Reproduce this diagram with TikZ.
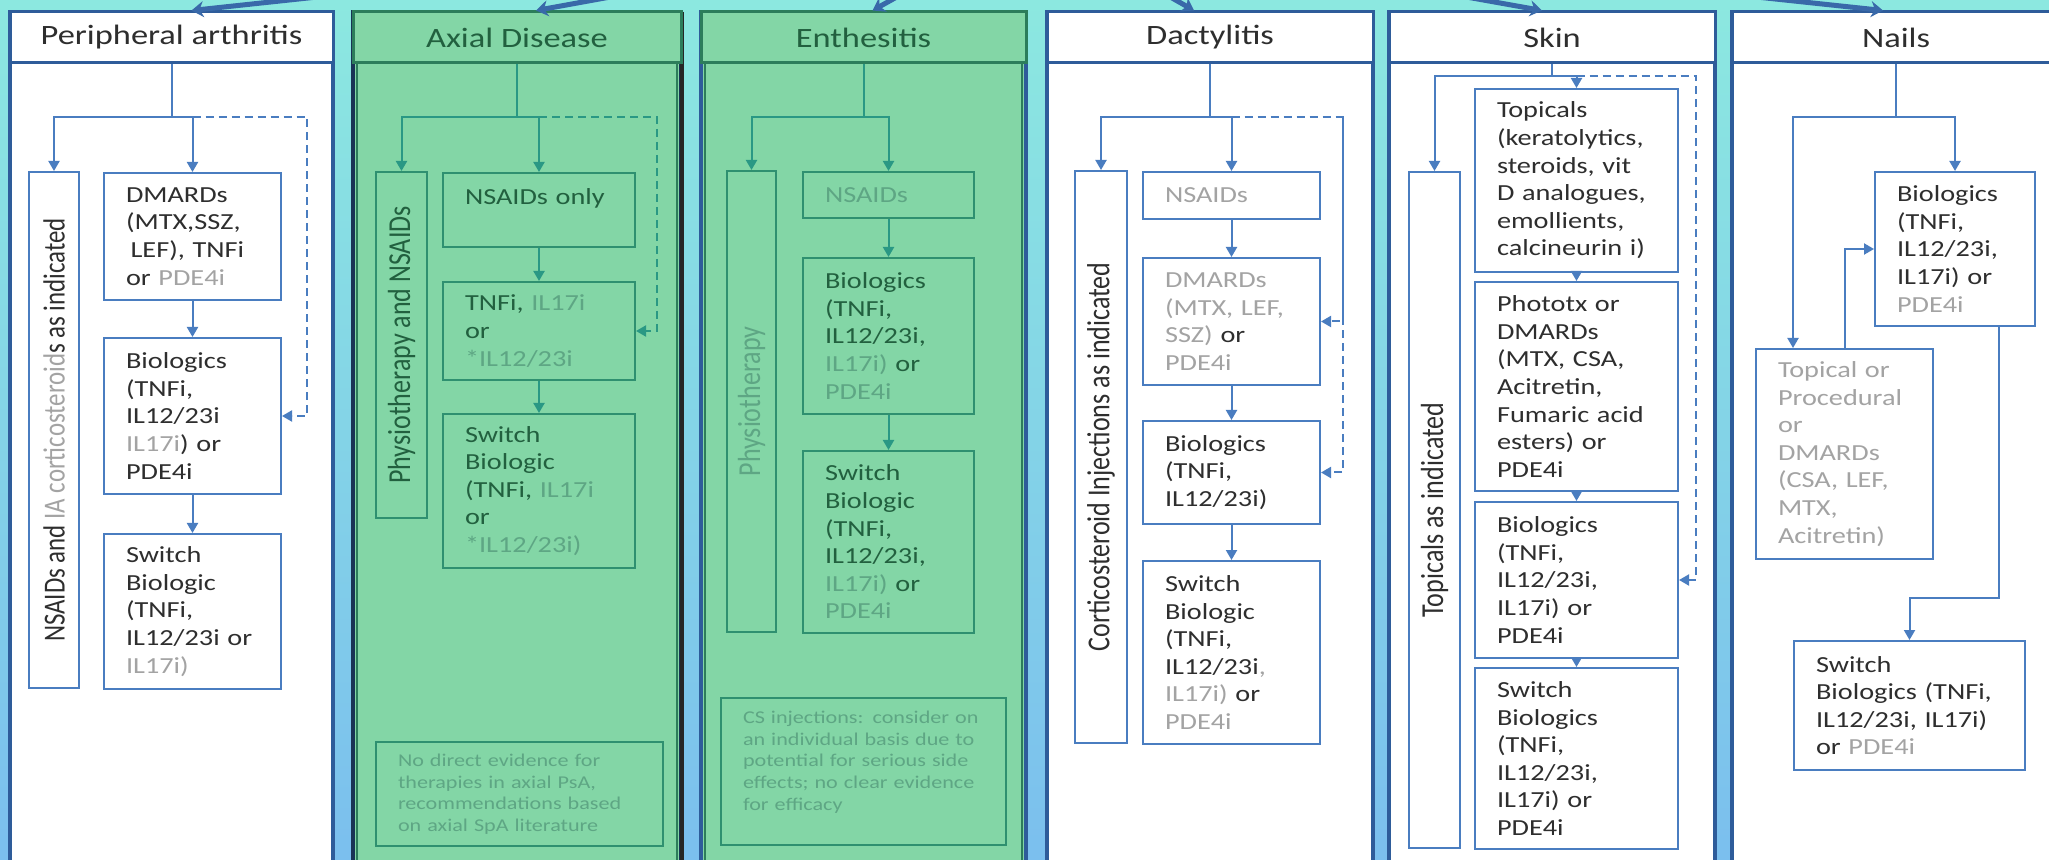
\documentclass[tikz,border=0pt]{standalone}
\usepackage{fontspec}
\setmainfont{Carlito}[FakeStretch=1.23]
\newfontfamily\rotfont{Carlito}[FakeStretch=0.813]
\usetikzlibrary{arrows.meta}

\definecolor{bgtop}{HTML}{8CE8E0}
\definecolor{bgbot}{HTML}{7BBFEE}
\definecolor{pnlblue}{HTML}{2E5C9A}
\definecolor{boxblue}{HTML}{4A7DC0}
\definecolor{txtdark}{HTML}{2E2E2E}
\definecolor{txtgrey}{HTML}{A3A3A3}
\definecolor{grnfill}{HTML}{83D6A6}
\definecolor{grnline}{HTML}{2C7D5B}
\definecolor{grnbox}{HTML}{2F9070}
\definecolor{grnarrow}{HTML}{2A9884}
\definecolor{grntext}{HTML}{22603F}
\definecolor{grnpale}{HTML}{5EA684}

\newcommand{\gry}[1]{\textcolor{txtgrey}{#1}}
\newcommand{\pale}[1]{\textcolor{grnpale}{#1}}

\tikzset{
  panel/.style={draw=pnlblue, line width=2pt},
  hdr/.style={draw=pnlblue, line width=1.5pt, minimum height=25.5pt, inner sep=0pt, font=\fontsize{14}{16}\selectfont, text=txtdark},
  tbox/.style={draw=boxblue, line width=1pt, anchor=north west, align=left, inner xsep=11pt, inner ysep=0pt, font=\fontsize{11.5}{13.8}\selectfont, text=txtdark},
  vbox/.style={draw=boxblue, line width=1pt, rotate=90, inner sep=0pt, font=\rotfont\fontsize{16}{18}\selectfont, text=txtdark},
  note/.style={tbox, draw=grnbox, font=\fontsize{9}{10.8}\selectfont, text=grnpale},
  grn/.style={draw=grnbox, text=grntext},
  conn/.style={draw=boxblue, line width=1pt},
  gconn/.style={conn, draw=grnarrow},
  link/.style={conn, -{Triangle[length=5pt,width=5.5pt]}},
  glink/.style={link, draw=grnarrow},
  dlink/.style={link, dash pattern=on 4pt off 2.5pt},
  gdlink/.style={dlink, draw=grnarrow},
  toparr/.style={draw=pnlblue!60!boxblue, line width=2.5pt, -{Stealth[length=6pt,width=8pt]}}
}

\begin{document}
\begin{tikzpicture}[x=0.5pt, y=-0.5pt]
	\useasboundingbox (0,0) rectangle (2049,860);
	\clip (0,0) rectangle (2049,860);
	\shade[top color=bgtop, bottom color=bgbot] (0,0) rectangle (2049,860);

	% Panels
	\draw[panel, fill=white] (10,12) rectangle (333,870);
	\draw[panel, draw=pnlblue!55!black, fill=grnfill] (353,12) rectangle (681,870);
	\draw[grnline, line width=1.2pt] (357,16) rectangle (677,870);
	\draw[black!85, line width=2pt] (682,12) -- (682,870);
	\draw[panel, fill=grnfill] (701,12) rectangle (1026,870);
	\draw[grnline, line width=1.2pt] (705,16) rectangle (1022,870);
	\draw[panel, fill=white] (1047,12) rectangle (1373,870);
	\draw[panel, fill=white] (1389,12) rectangle (1715,870);
	\draw[panel, fill=white] (1732,12) rectangle (2060,870);

	% Headers
	\node[hdr, fill=white, minimum width=161.5pt] (hdrA) at (171.5,37.5) {Peripheral arthritis};
	\node[hdr, fill=grnfill, draw=grnline, text=grntext, minimum width=164pt] (hdrB) at (517,37.5) {Axial Disease};
	\node[hdr, fill=grnfill, draw=grnline, text=grntext, minimum width=162.5pt] (hdrC) at (863.5,37.5) {Enthesitis};
	\node[hdr, fill=white, minimum width=163pt] (hdrD) at (1210,37.5) {Dactylitis};
	\node[hdr, fill=white, minimum width=163pt] (hdrE) at (1552,37.5) {Skin};
	\node[hdr, fill=white, minimum width=164pt] (hdrF) at (1896,37.5) {Nails};

	% Arrows from above
	\coordinate (root) at (1035,-80);
	\draw[toparr] (root) -- ([xshift=10pt]hdrA.north);
	\draw[toparr] (root) -- ([xshift=9.5pt]hdrB.north);
	\draw[toparr] (root) -- ([xshift=4.5pt]hdrC.north);
	\draw[toparr] (root) -- ([xshift=-8pt]hdrD.north);
	\draw[toparr] (root) -- ([xshift=-5pt]hdrE.north);
	\draw[toparr] (root) -- ([xshift=-6.5pt]hdrF.north);

	% Peripheral arthritis
	\coordinate (brA) at (171.5,117);
	\coordinate (dashA) at (307,117);
	\node[vbox, font=\rotfont\fontsize{15.3}{18}\selectfont, minimum width=258pt, minimum height=25pt] (vtA) at (54,430) {NSAIDs and \gry{IA corticosteroid}s as indicated};
	\node[tbox, text width=66.5pt, minimum height=63.5pt] (dmA) at (103,172) {DMARDs\\(MTX,SSZ,\\\hspace*{0.2em}LEF), TNFi\\or \gry{PDE4i}};
	\node[tbox, text width=66.5pt, minimum height=78pt] (bioA) at (103,337) {Biologics\\(TNFi,\\IL12/23i\\\gry{IL17i}) or\\PDE4i};
	\node[tbox, text width=66.5pt, minimum height=77.5pt] (swA) at (103,533) {Switch\\Biologic\\(TNFi,\\IL12/23i or\\\gry{IL17i)}};
	\draw[conn] (hdrA.south) -- (brA);
	\draw[link] (brA) -| (vtA.east);
	\draw[link] (brA) -| (dmA.north);
	\draw[dlink] (dmA.north |- brA) -- (dashA) |- (bioA.east);
	\draw[link] (dmA) -- (bioA);
	\draw[link] (bioA) -- (swA);

	% Axial Disease
	\coordinate (brB) at (517,117);
	\coordinate (dashB) at (657,117);
	\node[vbox, grn, minimum width=173pt, minimum height=25.5pt] (vtB) at (401.5,345) {Physiotherapy and NSAIDs};
	\node[tbox, grn, text width=74pt, minimum height=37pt] (nsB) at (442,172) {NSAIDs only\\\mbox{}};
	\node[tbox, grn, text width=74pt, minimum height=49pt] (tnfB) at (442,281) {TNFi, \pale{IL17i}\\or\\\pale{*IL12/23i}};
	\node[tbox, grn, text width=74pt, minimum height=77pt] (swB) at (442,413) {Switch\\Biologic\\(TNFi, \pale{IL17i}\\or\\\pale{*IL12/23i)}};
	\node[note, text width=121.5pt, minimum height=52pt] (noteB) at (375,741) {No direct evidence for\\therapies in axial PsA,\\recommendations based\\on axial SpA literature};
	\draw[gconn] (hdrB.south) -- (brB);
	\draw[glink] (brB) -| (vtB.east);
	\draw[glink] (brB) -| (nsB.north);
	\draw[gdlink] (nsB.north |- brB) -- (dashB) |- (tnfB.east);
	\draw[glink] (nsB) -- (tnfB);
	\draw[glink] (tnfB) -- (swB);

	% Enthesitis
	\coordinate (brC) at (863.5,117);
	\node[vbox, grn, text=grnpale, minimum width=230.5pt, minimum height=24.5pt] (vtC) at (751.5,401.5) {Physiotherapy};
	\node[tbox, grn, text width=63.5pt, minimum height=23pt] (nsC) at (802,171) {\pale{NSAIDs}};
	\node[tbox, grn, text width=63.5pt, minimum height=78pt] (bioC) at (802,257) {Biologics\\(TNFi,\\IL12/23i,\\\pale{IL17i)} or\\\pale{PDE4i}};
	\node[tbox, grn, text width=63.5pt, minimum height=91pt] (swC) at (802,450) {Switch\\Biologic\\(TNFi,\\IL12/23i,\\\pale{IL17i)} or\\\pale{PDE4i}};
	\node[note, text width=120.5pt, minimum height=73.5pt] (noteC) at (720,697) {CS injections: consider on\\an individual basis due to\\potential for serious side\\effects; no clear evidence\\for efficacy\\\mbox{}};
	\draw[gconn] (hdrC.south) -- (brC);
	\draw[glink] (brC) -| (vtC.east);
	\draw[glink] (brC) -| (nsC.north);
	\draw[glink] (nsC) -- (bioC);
	\draw[glink] (bioC) -- (swC);

	% Dactylitis
	\coordinate (brD) at (1210,117);
	\coordinate (dashD) at (1343,117);
	\node[vbox, minimum width=286pt, minimum height=26pt] (vtD) at (1101,457) {Corticosteroid Injections as indicated};
	\node[tbox, text width=66.5pt, minimum height=23.5pt] (nsD) at (1142,171) {\gry{NSAIDs}};
	\node[tbox, text width=66.5pt, minimum height=63.5pt] (dmD) at (1142,257) {\gry{DMARDs}\\\gry{(MTX, LEF,}\\\gry{SSZ)} or\\\gry{PDE4i}};
	\node[tbox, text width=66.5pt, minimum height=51.5pt] (bioD) at (1142,420) {Biologics\\(TNFi,\\IL12/23i)};
	\node[tbox, text width=66.5pt, minimum height=91.5pt] (swD) at (1142,560) {Switch\\Biologic\\(TNFi,\\IL12/23i\gry{,}\\\gry{IL17i)} or\\\gry{PDE4i}};
	\draw[conn] (hdrD.south) -- (brD);
	\draw[link] (brD) -| (vtD.east);
	\draw[link] (brD) -| (nsD.north);
	\draw[dlink] (nsD.north |- brD) -- (dashD) |- (bioD.east);
	\draw[dlink] (dashD) |- (dmD.east);
	\draw[link] (nsD) -- (dmD);
	\draw[link] (dmD) -- (bioD);
	\draw[link] (bioD) -- (swD);

	% Skin
	\coordinate (brE) at (1552,76);
	\coordinate (dashE) at (1696,76);
	\node[vbox, minimum width=338pt, minimum height=25.5pt] (vtE) at (1434.5,510) {Topicals as indicated};
	\node[tbox, text width=79.5pt, minimum height=91.5pt] (topE) at (1474,88) {Topicals\\(keratolytics,\\steroids, vit\\D analogues,\\emollients,\\calcineurin i)};
	\node[tbox, text width=79.5pt, minimum height=104.5pt] (phoE) at (1474,281) {Phototx or\\DMARDs\\(MTX, CSA,\\Acitretin,\\Fumaric acid\\esters) or\\PDE4i};
	\node[tbox, text width=79.5pt, minimum height=78pt] (bioE) at (1474,501) {Biologics\\(TNFi,\\IL12/23i,\\IL17i) or\\PDE4i};
	\node[tbox, text width=79.5pt, minimum height=90.5pt] (swE) at (1474,667) {Switch\\Biologics\\(TNFi,\\IL12/23i,\\IL17i) or\\PDE4i};
	\draw[conn] (hdrE.south) -- (brE);
	\draw[link] (brE) -| (vtE.east);
	\draw[link] (brE) -| (topE.north);
	\draw[dlink] (topE.north |- brE) -- (dashE) |- (bioE.east);
	\draw[link] (topE) -- (phoE);
	\draw[link] (phoE) -- (bioE);
	\draw[link] (bioE) -- (swE);

	% Nails
	\coordinate (brF) at (1896,117);
	\coordinate (kF) at (1999,598);
	\node[tbox, text width=58pt, minimum height=77pt] (bioF) at (1874,171) {Biologics\\(TNFi,\\IL12/23i,\\IL17i) or\\\gry{PDE4i}};
	\node[tbox, text=txtgrey, text width=66.5pt, minimum height=105pt] (topF) at (1755,348) {Topical or\\Procedural\\or\\DMARDs\\(CSA, LEF,\\MTX,\\Acitretin)};
	\node[tbox, text width=93.5pt, minimum height=64.5pt] (swF) at (1793,640) {Switch\\Biologics (TNFi,\\IL12/23i, IL17i)\\or \gry{PDE4i}};
	\draw[conn] (hdrF.south) -- (brF);
	\draw[link] (brF) -| (bioF.north);
	\draw[link] (brF) -| ([xshift=19pt]topF.north west);
	\draw[link] (topF.north) |- (bioF.west);
	\draw[link] (bioF.south -| kF) -- (kF) -| (swF.north);

\end{tikzpicture}
\end{document}
